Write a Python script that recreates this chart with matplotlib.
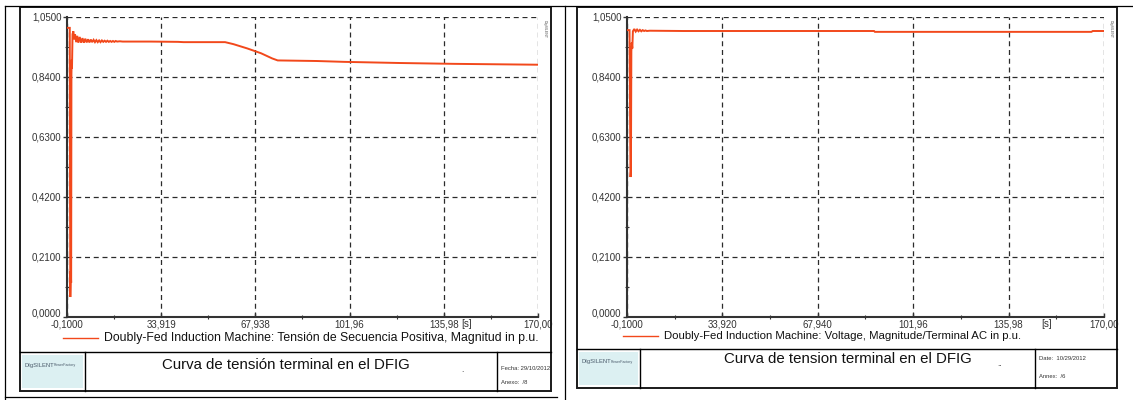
import numpy as np
import matplotlib
matplotlib.use("Agg")
import matplotlib.pyplot as plt
from matplotlib.lines import Line2D
from matplotlib.patches import Rectangle
from matplotlib.ticker import FixedLocator

plt.rcParams['font.family'] = ['Liberation Sans', 'DejaVu Sans']

W, H = 1133, 400

# --- simulation results (time in s, voltage in p.u.) ---
t_pos = [-0.1, 0.9, 1.0, 1.1, 1.25, 1.4, 1.5, 1.6, 1.7, 1.9, 2.2,
         2.5, 2.8, 3.2, 3.6, 4.0, 4.5, 5.0, 5.5, 6.0, 6.5, 7.0, 7.5, 8.0, 8.5,
         9.0, 9.5, 10.0, 10.5, 11.0, 11.5, 12.0, 12.5, 13.0, 13.5, 14.0, 14.5,
         15.0, 15.5, 16.0, 16.5, 17.0, 17.5, 18.0, 19.0, 20.0,
         30.0, 40.0, 42.0, 57.0, 60.0, 65.0, 70.0, 74.0, 76.0,
         90.0, 100.0, 120.0, 140.0, 170.0]
v_pos = [1.012, 1.012, 0.40, 0.07, 0.16, 0.12, 0.85, 0.90, 0.87, 0.99, 1.000,
         0.972, 0.990, 0.962, 0.984, 0.960, 0.980, 0.960, 0.976, 0.960, 0.974, 0.961, 0.972, 0.961, 0.971,
         0.962, 0.970, 0.962, 0.969, 0.962, 0.968, 0.962, 0.968, 0.963, 0.967, 0.963, 0.967,
         0.963, 0.966, 0.963, 0.966, 0.963, 0.966, 0.964, 0.965, 0.964,
         0.964, 0.963, 0.962, 0.962, 0.955, 0.940, 0.923, 0.905, 0.898,
         0.896, 0.893, 0.889, 0.886, 0.883]

t_term = [-0.1, 0.8, 1.0, 1.15, 1.3, 1.45, 1.6, 1.8, 2.0, 2.5, 3.0, 3.5, 4.0,
          4.5, 5.0, 5.5, 6.0, 6.5, 7.0, 8.0, 20.0, 88.0, 88.3, 165.5, 166.0, 170.0]
v_term = [1.004, 1.004, 0.70, 0.49, 0.51, 0.93, 0.96, 0.94, 1.000, 1.008, 0.999, 1.006, 1.000,
          1.005, 1.000, 1.004, 1.001, 1.003, 1.001, 1.002, 1.001, 1.001, 0.998, 0.998, 1.001, 1.001]

y_ticks = [0.0, 0.21, 0.42, 0.63, 0.84, 1.05]
y_labels = ['0,0000', '0,2100', '0,4200', '0,6300', '0,8400', '1,0500']
x_ticks = [-0.1, 33.919, 67.938, 101.96, 135.98, 170.0]
x_labels_pos = ['-0,1000', '33,919', '67,938', '101,96', '135,98', '170,00']
x_labels_term = ['-0,1000', '33,920', '67,940', '101,96', '135,98', '170,00']

panels = [
    dict(t=t_pos, v=v_pos, xl=x_labels_pos,
         legend='Doubly-Fed Induction Machine: Tensión de Secuencia Positiva, Magnitud in p.u.',
         leg_size=8.8,
         title='Curva de tensión terminal en el DFIG', title_x=286,
         date='Fecha: 29/10/2012', annex='Anexo:  /8', dots='.',
         frame=(20, 7, 551, 391), block_top=352, logo_r=85, date_l=497,
         ax=(67, 17, 538, 317), leg_y=338, title_y=365, date_y=(368, 382), s_x=467),
    dict(t=t_term, v=v_term, xl=x_labels_term,
         legend='Doubly-Fed Induction Machine: Voltage, Magnitude/Terminal AC in p.u.',
         leg_size=8.2,
         title='Curva de tension terminal en el DFIG', title_x=848,
         date='Date:  10/29/2012', annex='Annex:  /6', dots='..',
         frame=(577, 7, 1117, 388), block_top=349, logo_r=640, date_l=1035,
         ax=(627, 17, 1104, 317), leg_y=336, title_y=359, date_y=(359, 377), s_x=1047),
]

RED = '#F2481B'
GRID = '#2b2b2b'

fig = plt.figure(figsize=(W / 100, H / 100), dpi=100)


def fx(x):
    return x / W


def fy(y):
    return 1 - y / H


def hline(y, x0, x1, lw=0.9, color='black'):
    fig.add_artist(Line2D([fx(x0), fx(x1)], [fy(y), fy(y)], lw=lw, color=color,
                          transform=fig.transFigure))


def vline(x, y0, y1, lw=0.9, color='black'):
    fig.add_artist(Line2D([fx(x), fx(x)], [fy(y0), fy(y1)], lw=lw, color=color,
                          transform=fig.transFigure))


# outer page lines
hline(6, 5, W)
vline(5, 6, H)
vline(565, 6, H)
hline(397, 5, 557)

for p in panels:
    x0, y0, x1, y1 = p['frame']
    # drawing frame
    fig.add_artist(Rectangle((fx(x0), fy(y1)), fx(x1) - fx(x0), fy(y0) - fy(y1),
                             fill=False, lw=1.4, ec='#1a1a1a', transform=fig.transFigure))
    hline(p['block_top'], x0, x1, lw=1.0)
    vline(p['logo_r'], p['block_top'], y1, lw=1.0)
    vline(p['date_l'], p['block_top'], y1, lw=1.0)

    # logo
    fig.add_artist(Rectangle((fx(x0 + 2), fy(y1 - 3)), fx(p['logo_r'] - x0 - 4), fy(0) - fy(y1 - 3 - p['block_top'] - 3),
                             fc='#dcf0f2', ec='none', transform=fig.transFigure))
    fig.text(fx(x0 + 4), fy(p['block_top'] + 13), 'DIgSILENT', fontsize=4.2, color='#4a5a6a',
             ha='left', va='center')
    fig.text(fx(x0 + 34), fy(p['block_top'] + 13), 'PowerFactory', fontsize=2.6, color='#4a5a6a',
             ha='left', va='center')

    # title block texts
    fig.text(fx(p['title_x']), fy(p['title_y']), p['title'],
             fontsize=10.8, ha='center', va='center', color='#111111')
    fig.text(fx(p['date_l'] - 35), fy(p['title_y'] + 6), p['dots'], fontsize=6, ha='center',
             va='center', color='#222222')
    fig.text(fx(p['date_l'] + 4), fy(p['date_y'][0]), p['date'], fontsize=4.2, ha='left',
             va='center', color='#333333')
    fig.text(fx(p['date_l'] + 4), fy(p['date_y'][1]), p['annex'], fontsize=4.2, ha='left',
             va='center', color='#333333')

    # plot area
    ax0, ay0, ax1, ay1 = p['ax']
    ax = fig.add_axes([fx(ax0), fy(ay1), fx(ax1) - fx(ax0), fy(ay0) - fy(ay1)])
    ax.plot(p['t'], p['v'], color=RED, lw=1.4, solid_joinstyle='miter', zorder=3)
    ax.set_xlim(-0.1, 170.0)
    ax.set_ylim(0.0, 1.05)
    ax.set_xticks(x_ticks)
    ax.set_xticklabels(p['xl'])
    ax.set_yticks(y_ticks)
    ax.set_yticklabels(y_labels)
    ax.xaxis.set_minor_locator(FixedLocator([(a + b) / 2 for a, b in zip(x_ticks[:-1], x_ticks[1:])]))
    ax.yaxis.set_minor_locator(FixedLocator([(a + b) / 2 for a, b in zip(y_ticks[:-1], y_ticks[1:])]))
    ax.tick_params(which='major', direction='out', length=3, width=1.0, color='#333333',
                   labelsize=7, labelcolor='#333333', pad=1)
    ax.tick_params(axis='x', which='major', direction='in', length=3, pad=2.0)
    ax.tick_params(which='minor', direction='inout', length=3, width=0.8, color='#333333')
    ax.grid(True, which='major', color=GRID, lw=0.9, ls=(0, (4, 3)))
    for side in ('top', 'right'):
        ax.spines[side].set_visible(False)
    for side in ('left', 'bottom'):
        ax.spines[side].set_color('#333333')
        ax.spines[side].set_linewidth(1.5)
    ax.set_facecolor('none')
    # lift the zero label a little so it clears the first time label
    ax.get_yticklabels()[0].set_verticalalignment('baseline')

    fig.text(fx(p['s_x']), fy(ay1 + 7), '[s]', fontsize=7, ha='center', va='center', color='#333333')
    fig.text(fx(ax1 + 7), fy(ay0 + 12), 'DIgSILENT', fontsize=2.6, rotation=270, ha='center',
             va='center', color='#555555')

    # legend entry
    fig.add_artist(Line2D([fx(ax0 - 4), fx(ax0 + 31)], [fy(p['leg_y']), fy(p['leg_y'])], lw=1.0,
                          color=RED, transform=fig.transFigure))
    fig.text(fx(ax0 + 37), fy(p['leg_y']), p['legend'], fontsize=p['leg_size'], ha='left',
             va='center', color='#111111')

fig.savefig('out.png', dpi=100)
